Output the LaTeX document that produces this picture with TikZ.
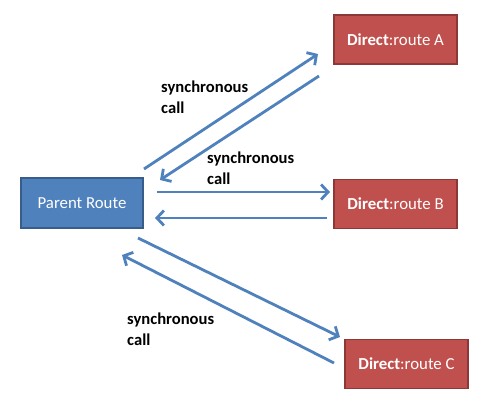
\documentclass[tikz,border=0pt]{standalone}
\usepackage{fontspec}
\setmainfont{Carlito}
\usetikzlibrary{arrows.meta}
\definecolor{parentblue}{HTML}{4F81BD}
\definecolor{parentedge}{HTML}{385D8A}
\definecolor{directred}{HTML}{C0504D}
\definecolor{directedge}{HTML}{8C3836}
\definecolor{callblue}{HTML}{4F81BD}
\tikzset{
  parentbox/.style={draw=parentedge,fill=parentblue,line width=1.5pt,
    minimum width=122pt,minimum height=50pt,text=white,font=\fontsize{16.8}{19}\selectfont},
  directbox/.style={draw=directedge,fill=directred,line width=1.5pt,
    minimum width=123pt,minimum height=49pt,text=white,font=\fontsize{16.8}{19}\selectfont},
  callarrow/.style={draw=callblue,line width=2.8pt,
    -{Straight Barb[length=7pt,width=15pt,line width=2.8pt]}},
  calltext/.style={anchor=north west,align=left,inner sep=0pt,
    font=\bfseries\fontsize{16.6}{20.5}\selectfont}
}
\begin{document}
\begin{tikzpicture}[x=1pt,y=-1pt]
\useasboundingbox[fill=white] (0,0) rectangle (485,401);
% boxes
\node[parentbox] (parent) at (82,203) {Parent Route};
\node[directbox] (routeA) at (395.5,39.5) {\textbf{Direct}:route A};
\node[directbox] (routeB) at (395.5,204) {\textbf{Direct}:route B};
\node[directbox] (routeC) at (406.5,364) {\textbf{Direct}:route C};
% arrow ends
\coordinate (pa) at (144,169);  \coordinate (ap) at (318,54);
\coordinate (ab) at (319,76);   \coordinate (ba) at (160,180);
\coordinate (pb) at (157,192);  \coordinate (bp) at (330,192);
\coordinate (bq) at (327,218);  \coordinate (qb) at (155,218);
\coordinate (pc) at (138,238);  \coordinate (cp) at (340,337);
\coordinate (cq) at (334,363);  \coordinate (qc) at (122,255);
% calls
\draw[callarrow] (pa) -- (ap);
\draw[callarrow] (ab) -- (ba);
\draw[callarrow] (pb) -- (bp);
\draw[callarrow] (bq) -- (qb);
\draw[callarrow] (pc) -- (cp);
\draw[callarrow] (cq) -- (qc);
% labels
\node[calltext] (callA) at (161,81) {synchronous\\call};
\node[calltext] (callB) at (207,152) {synchronous\\call};
\node[calltext] (callC) at (127,313) {synchronous\\call};
\end{tikzpicture}
\end{document}
